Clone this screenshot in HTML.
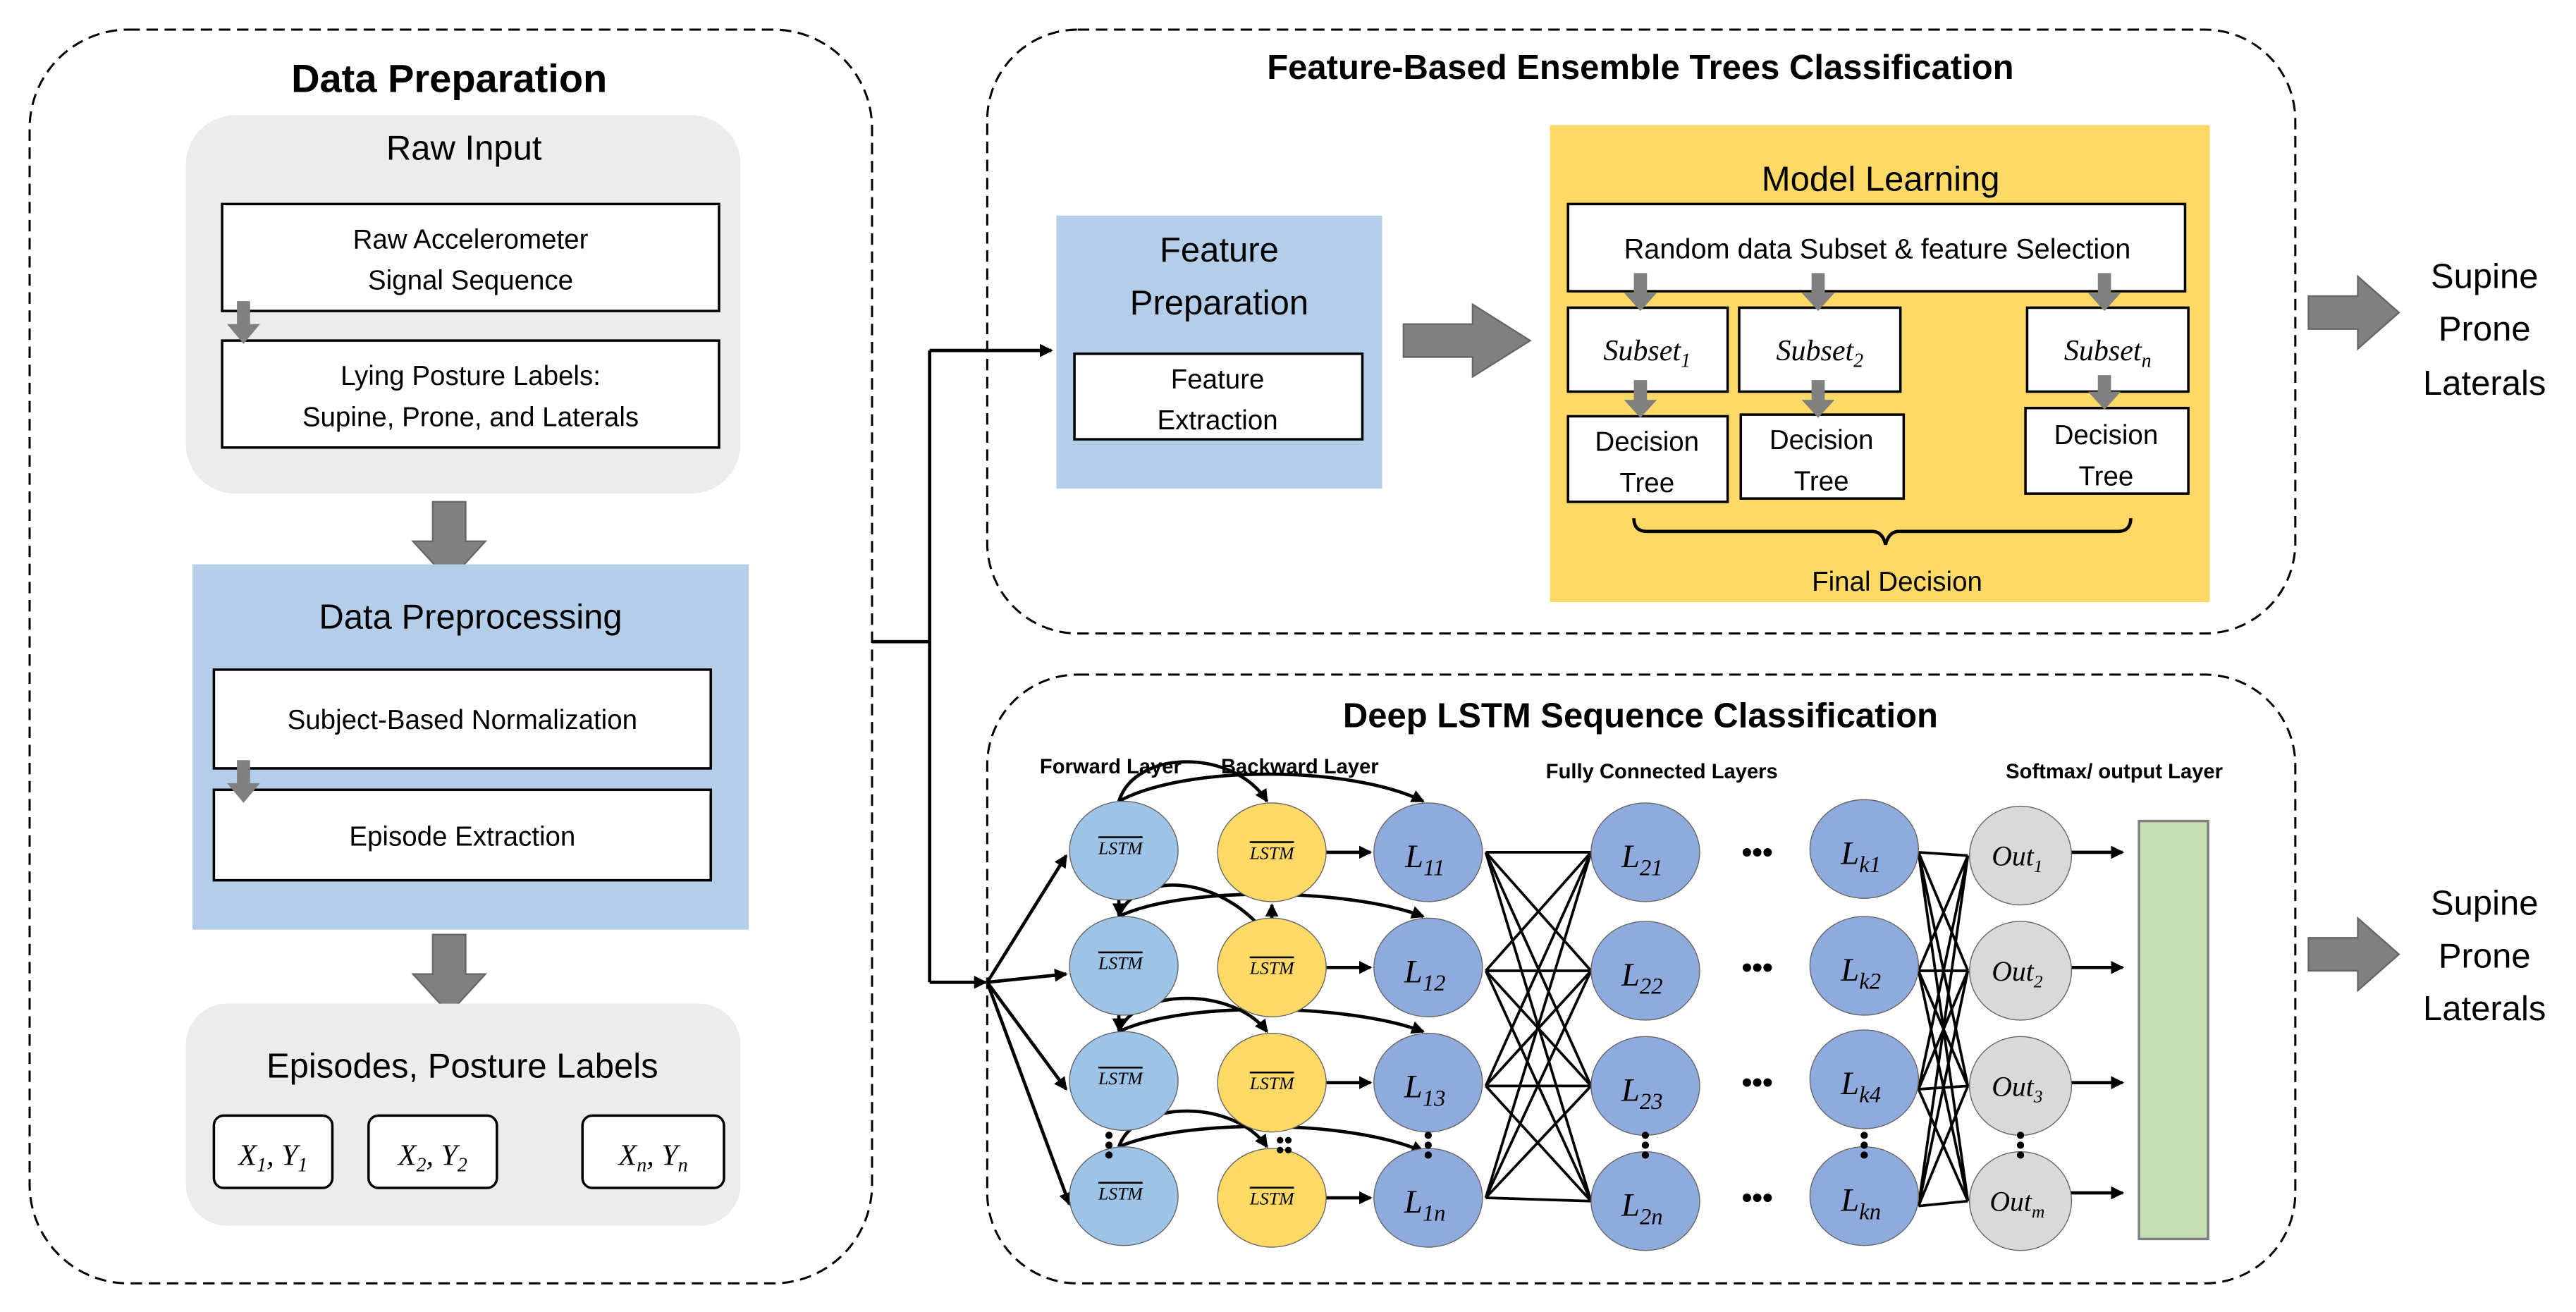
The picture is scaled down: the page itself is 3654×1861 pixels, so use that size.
<!DOCTYPE html>
<html><head><meta charset="utf-8"><style>html,body{margin:0;padding:0;background:#fff}svg{display:block}</style></head><body>
<svg width="3654" height="1861" viewBox="0 0 1565.6 797.4" preserveAspectRatio="none" xmlns="http://www.w3.org/2000/svg" font-family="Liberation Sans, sans-serif">
<defs>
<marker id="a" markerWidth="8" markerHeight="8" refX="7" refY="4" orient="auto" markerUnits="userSpaceOnUse"><path d="M0,0 L8,4 L0,8 z" fill="#000"/></marker>
</defs>
<style>
.t{text-anchor:middle}
.b{font-weight:bold}
.box{fill:#fff;stroke:#000;stroke-width:1.5}
.ln{stroke:#000;stroke-width:2;fill:none}
.i{font-family:"Liberation Serif",serif;font-style:italic}
</style>
<rect x="18" y="18" width="512" height="762" rx="60" fill="none" stroke="#000" stroke-width="1.3" stroke-dasharray="7,4"/>
<text x="273" y="56" class="t b" font-size="24">Data Preparation</text>
<rect x="113" y="70" width="337" height="230" rx="30" fill="#ececec"/>
<text x="282" y="97" class="t" font-size="21">Raw Input</text>
<rect x="135" y="124" width="302" height="65" class="box"/>
<text x="286" y="151" class="t" font-size="16.5">Raw Accelerometer</text>
<text x="286" y="176" class="t" font-size="16.5">Signal Sequence</text>
<rect x="135" y="207" width="302" height="65" class="box"/>
<text x="286" y="234" class="t" font-size="16.5">Lying Posture Labels:</text>
<text x="286" y="259" class="t" font-size="16.5">Supine, Prone, and Laterals</text>
<path d="M144,183 h8 v14 h6 l-10,12 l-10,-12 h6z" fill="#808080"/>
<path d="M263,305 h20 v24 h12 l-22,24 l-22,-24 h12z" fill="#808080" stroke="#666"/>
<rect x="117" y="343" width="338" height="222" fill="#b4cde9"/>
<text x="286" y="382" class="t" font-size="21">Data Preprocessing</text>
<rect x="130" y="407" width="302" height="60" class="box"/>
<text x="281" y="443" class="t" font-size="16.5">Subject-Based Normalization</text>
<rect x="130" y="480" width="302" height="55" class="box"/>
<text x="281" y="514" class="t" font-size="16.5">Episode Extraction</text>
<path d="M144,462 h8 v14 h6 l-10,12 l-10,-12 h6z" fill="#808080"/>
<path d="M263,568 h20 v24 h12 l-22,24 l-22,-24 h12z" fill="#808080" stroke="#666"/>
<rect x="113" y="610" width="337" height="135" rx="25" fill="#ececec"/>
<text x="281" y="655" class="t" font-size="21">Episodes, Posture Labels</text>
<rect x="130" y="678" width="72" height="44" rx="6" class="box"/>
<text x="166" y="708" class="t i" font-size="18">X<tspan font-size="12" dy="4">1</tspan><tspan dy="-4">, Y</tspan><tspan font-size="12" dy="4">1</tspan></text>
<rect x="224" y="678" width="78" height="44" rx="6" class="box"/>
<text x="263" y="708" class="t i" font-size="18">X<tspan font-size="12" dy="4">2</tspan><tspan dy="-4">, Y</tspan><tspan font-size="12" dy="4">2</tspan></text>
<rect x="354" y="678" width="86" height="44" rx="6" class="box"/>
<text x="397" y="708" class="t i" font-size="18">X<tspan font-size="12" dy="4">n</tspan><tspan dy="-4">, Y</tspan><tspan font-size="12" dy="4">n</tspan></text>
<path d="M530,390 H565 M565,213 V597" class="ln"/>
<path d="M565,213 H639" class="ln" marker-end="url(#a)"/>
<path d="M565,597 H599" class="ln" marker-end="url(#a)"/>
<rect x="600" y="18" width="795" height="367" rx="55" fill="none" stroke="#000" stroke-width="1.3" stroke-dasharray="7,4"/>
<text x="997" y="48" class="t b" font-size="21">Feature-Based Ensemble Trees Classification</text>
<rect x="642" y="131" width="198" height="166" fill="#b4cde9"/>
<text x="741" y="159" class="t" font-size="21">Feature</text>
<text x="741" y="191" class="t" font-size="21">Preparation</text>
<rect x="653" y="215" width="175" height="52" class="box"/>
<text x="740" y="236" class="t" font-size="16.5">Feature</text>
<text x="740" y="261" class="t" font-size="16.5">Extraction</text>
<path d="M853,197 h42 v-12 l35,22 l-35,22 v-12 h-42z" fill="#808080" stroke="#666"/>
<rect x="942" y="76" width="401" height="290" fill="#ffd966"/>
<text x="1143" y="116" class="t" font-size="21">Model Learning</text>
<rect x="953" y="124" width="375" height="53" class="box"/>
<text x="1141" y="157" class="t" font-size="17">Random data Subset &amp; feature Selection</text>
<g font-size="18" class="i">
<rect x="953" y="187" width="97" height="51" class="box"/><text x="1001" y="219" class="t">Subset<tspan font-size="12" dy="4">1</tspan></text>
<rect x="1057" y="187" width="98" height="51" class="box"/><text x="1106" y="219" class="t">Subset<tspan font-size="12" dy="4">2</tspan></text>
<rect x="1232" y="187" width="98" height="51" class="box"/><text x="1281" y="219" class="t">Subset<tspan font-size="12" dy="4">n</tspan></text>
</g>
<rect x="953" y="253" width="97" height="52" class="box"/><text x="1001" y="274" class="t" font-size="16.5">Decision</text><text x="1001" y="299" class="t" font-size="16.5">Tree</text>
<rect x="1058" y="252" width="99" height="51" class="box"/><text x="1107" y="273" class="t" font-size="16.5">Decision</text><text x="1107" y="298" class="t" font-size="16.5">Tree</text>
<rect x="1231" y="248" width="99" height="52" class="box"/><text x="1280" y="270" class="t" font-size="16.5">Decision</text><text x="1280" y="295" class="t" font-size="16.5">Tree</text>
<g fill="#808080">
<path d="M993,166 h8 v12 h6 l-10,11 l-10,-11 h6z"/>
<path d="M1101,166 h8 v12 h6 l-10,11 l-10,-11 h6z"/>
<path d="M1275,166 h8 v12 h6 l-10,11 l-10,-11 h6z"/>
<path d="M993,231 h8 v12 h6 l-10,11 l-10,-11 h6z"/>
<path d="M1101,231 h8 v12 h6 l-10,11 l-10,-11 h6z"/>
<path d="M1275,228 h8 v10 h6 l-10,11 l-10,-11 h6z"/>
</g>
<path d="M993,315 q0,8 8,8 H1138 q6,0 8,8 q2,-8 8,-8 H1287 q8,0 8,-8" class="ln"/>
<text x="1153" y="359" class="t" font-size="16.5">Final Decision</text>
<path d="M1403,180 h30 v-12 l25,22 l-25,22 v-12 h-30z" fill="#808080" stroke="#666"/>
<g font-size="21" class="t"><text x="1510" y="175">Supine</text><text x="1510" y="207">Prone</text><text x="1510" y="240">Laterals</text></g>
<rect x="600" y="410" width="795" height="370" rx="55" fill="none" stroke="#000" stroke-width="1.3" stroke-dasharray="7,4"/>
<text x="997" y="442" class="t b" font-size="21">Deep LSTM Sequence Classification</text>
<g class="b" font-size="12.5"><text x="675" y="470" class="t">Forward Layer</text><text x="790" y="470" class="t">Backward Layer</text><text x="1010" y="473" class="t">Fully Connected Layers</text><text x="1285" y="473" class="t">Softmax/ output Layer</text></g>
<g class="ln">
<path d="M600,597 L648,520" marker-end="url(#a)"/>
<path d="M600,597 L648,592" marker-end="url(#a)"/>
<path d="M600,597 L648,662" marker-end="url(#a)"/>
<path d="M600,597 L650,732" marker-end="url(#a)"/>
</g>
<g stroke="#000" stroke-width="1.6" fill="none">
<path d="M903,518 L967,518 M903,518 L967,590 M903,518 L967,660 M903,518 L967,730
M903,590 L967,518 M903,590 L967,590 M903,590 L967,660 M903,590 L967,730
M903,660 L967,518 M903,660 L967,590 M903,660 L967,660 M903,660 L967,730
M903,728 L967,518 M903,728 L967,590 M903,728 L967,660 M903,728 L967,730
M1166,518 L1196,520 M1166,518 L1196,590 M1166,518 L1196,660 M1166,518 L1196,730
M1166,590 L1196,520 M1166,590 L1196,590 M1166,590 L1196,660 M1166,590 L1196,730
M1166,662 L1196,520 M1166,662 L1196,590 M1166,662 L1196,660 M1166,662 L1196,730
M1166,733 L1196,520 M1166,733 L1196,590 M1166,733 L1196,660 M1166,733 L1196,730"/>
</g>
<g class="ln">
<path d="M680,487 C690,455 750,455 770,487" marker-end="url(#a)"/>
<path d="M680,487 C720,465 820,465 865,487" marker-end="url(#a)"/>
<path d="M680,557 C690,530 740,530 770,568" marker-end="url(#a)"/>
<path d="M680,557 C720,538 820,540 865,557" marker-end="url(#a)"/>
<path d="M680,627 C690,600 750,600 770,627" marker-end="url(#a)"/>
<path d="M680,627 C720,608 820,610 865,627" marker-end="url(#a)"/>
<path d="M680,697 C690,668 750,668 770,697" marker-end="url(#a)"/>
<path d="M680,697 C720,680 820,680 865,700" marker-end="url(#a)"/>
<path d="M680,547 V556" marker-end="url(#a)"/>
<path d="M680,617 V626" marker-end="url(#a)"/>
<path d="M773,567 V550" marker-end="url(#a)"/>
<path d="M806,518 H833" marker-end="url(#a)"/><path d="M806,588 H833" marker-end="url(#a)"/>
<path d="M806,658 H833" marker-end="url(#a)"/><path d="M806,728 H833" marker-end="url(#a)"/>
<path d="M1258,518 H1290" marker-end="url(#a)"/><path d="M1258,588 H1290" marker-end="url(#a)"/>
<path d="M1258,658 H1290" marker-end="url(#a)"/><path d="M1258,725 H1290" marker-end="url(#a)"/>
</g>
<g stroke="#666" stroke-width="0.6">
<g fill="#9dc3e6"><ellipse cx="683" cy="517" rx="33" ry="30"/><ellipse cx="683" cy="587" rx="33" ry="30"/><ellipse cx="683" cy="657" rx="33" ry="30"/><ellipse cx="683" cy="727" rx="33" ry="30"/></g>
<g fill="#ffd966"><ellipse cx="773" cy="518" rx="33" ry="30"/><ellipse cx="773" cy="588" rx="33" ry="30"/><ellipse cx="773" cy="658" rx="33" ry="30"/><ellipse cx="773" cy="728" rx="33" ry="30"/></g>
<g fill="#8faadc"><ellipse cx="868" cy="518" rx="33" ry="30"/><ellipse cx="868" cy="588" rx="33" ry="30"/><ellipse cx="868" cy="658" rx="33" ry="30"/><ellipse cx="868" cy="728" rx="33" ry="30"/>
<ellipse cx="1000" cy="518" rx="33" ry="30"/><ellipse cx="1000" cy="590" rx="33" ry="30"/><ellipse cx="1000" cy="660" rx="33" ry="30"/><ellipse cx="1000" cy="730" rx="33" ry="30"/>
<ellipse cx="1133" cy="516" rx="33" ry="30"/><ellipse cx="1133" cy="587" rx="33" ry="30"/><ellipse cx="1133" cy="656" rx="33" ry="30"/><ellipse cx="1133" cy="727" rx="33" ry="30"/></g>
<g fill="#d9d9d9"><ellipse cx="1228" cy="520" rx="31" ry="30"/><ellipse cx="1228" cy="590" rx="31" ry="30"/><ellipse cx="1228" cy="660" rx="31" ry="30"/><ellipse cx="1228" cy="730" rx="31" ry="30"/></g>
</g>
<g class="i" font-size="11" text-anchor="middle" text-decoration="overline">
<text x="681" y="519">LSTM</text><text x="681" y="589">LSTM</text><text x="681" y="659">LSTM</text><text x="681" y="729">LSTM</text>
<text x="773" y="522">LSTM</text><text x="773" y="592">LSTM</text><text x="773" y="662">LSTM</text><text x="773" y="732">LSTM</text>
</g>
<g class="i" font-size="20" text-anchor="middle">
<text x="866" y="527">L<tspan font-size="14" dy="5">11</tspan></text><text x="866" y="597">L<tspan font-size="14" dy="5">12</tspan></text><text x="866" y="667">L<tspan font-size="14" dy="5">13</tspan></text><text x="866" y="737">L<tspan font-size="14" dy="5">1n</tspan></text>
<text x="998" y="527">L<tspan font-size="14" dy="5">21</tspan></text><text x="998" y="599">L<tspan font-size="14" dy="5">22</tspan></text><text x="998" y="669">L<tspan font-size="14" dy="5">23</tspan></text><text x="998" y="739">L<tspan font-size="14" dy="5">2n</tspan></text>
<text x="1131" y="525">L<tspan font-size="14" dy="5">k1</tspan></text><text x="1131" y="596">L<tspan font-size="14" dy="5">k2</tspan></text><text x="1131" y="665">L<tspan font-size="14" dy="5">k4</tspan></text><text x="1131" y="736">L<tspan font-size="14" dy="5">kn</tspan></text>
</g>
<g class="i" font-size="17" text-anchor="middle">
<text x="1226" y="526">Out<tspan font-size="11" dy="4">1</tspan></text><text x="1226" y="596">Out<tspan font-size="11" dy="4">2</tspan></text><text x="1226" y="666">Out<tspan font-size="11" dy="4">3</tspan></text><text x="1226" y="736">Out<tspan font-size="11" dy="4">m</tspan></text>
</g>
<g font-size="18" font-weight="bold" text-anchor="middle"><text x="1068" y="524">•••</text><text x="1068" y="594">•••</text><text x="1068" y="664">•••</text><text x="1068" y="734">•••</text></g>
<g fill="#000"><circle cx="674" cy="690" r="2.2"/><circle cx="674" cy="696" r="2.2"/><circle cx="674" cy="702" r="2.2"/>
<circle cx="868" cy="690" r="2.2"/><circle cx="868" cy="696" r="2.2"/><circle cx="868" cy="702" r="2.2"/>
<circle cx="1000" cy="690" r="2.2"/><circle cx="1000" cy="696" r="2.2"/><circle cx="1000" cy="702" r="2.2"/>
<circle cx="1133" cy="690" r="2.2"/><circle cx="1133" cy="696" r="2.2"/><circle cx="1133" cy="702" r="2.2"/>
<circle cx="1228" cy="690" r="2.2"/><circle cx="1228" cy="696" r="2.2"/><circle cx="1228" cy="702" r="2.2"/>
<circle cx="778" cy="693" r="2"/><circle cx="778" cy="699" r="2"/><circle cx="783" cy="693" r="2"/><circle cx="783" cy="699" r="2"/></g>
<rect x="1300" y="499" width="42" height="254" fill="#c5e0b4" stroke="#808080" stroke-width="1.5"/>
<path d="M1403,570 h30 v-12 l25,22 l-25,22 v-12 h-30z" fill="#808080" stroke="#666"/>
<g font-size="21" class="t"><text x="1510" y="556">Supine</text><text x="1510" y="588">Prone</text><text x="1510" y="620">Laterals</text></g>
</svg>
</body></html>
